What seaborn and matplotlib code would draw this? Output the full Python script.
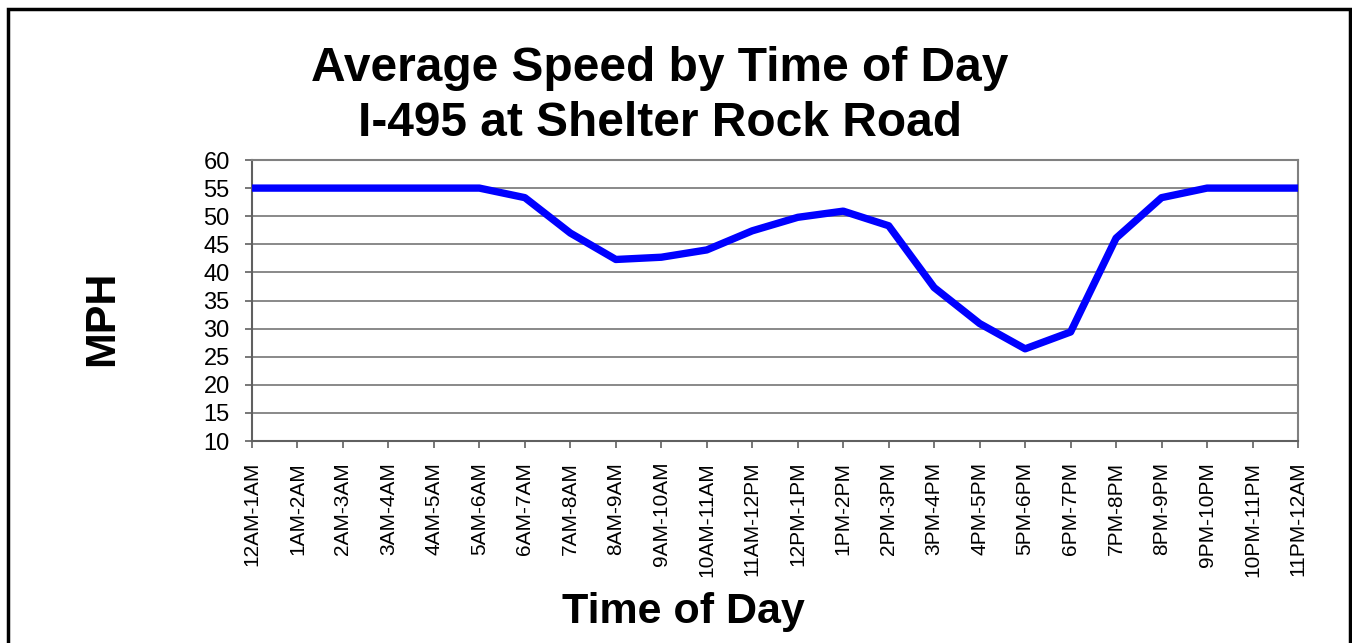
import matplotlib
matplotlib.use("Agg")
import matplotlib.pyplot as plt
import seaborn as sns
import pandas as pd

# data
hours = ["12AM-1AM", "1AM-2AM", "2AM-3AM", "3AM-4AM", "4AM-5AM", "5AM-6AM",
         "6AM-7AM", "7AM-8AM", "8AM-9AM", "9AM-10AM", "10AM-11AM", "11AM-12PM",
         "12PM-1PM", "1PM-2PM", "2PM-3PM", "3PM-4PM", "4PM-5PM", "5PM-6PM",
         "6PM-7PM", "7PM-8PM", "8PM-9PM", "9PM-10PM", "10PM-11PM", "11PM-12AM"]
mph = [55, 55, 55, 55, 55, 55,
       53.3, 47.0, 42.3, 42.7, 44.0, 47.4,
       49.8, 50.9, 48.3, 37.3, 30.9, 26.4,
       29.4, 46.1, 53.3, 55, 55, 55]
yticks = list(range(10, 65, 5))

df = pd.DataFrame({"hour": hours, "mph": mph})
df["pos"] = range(len(df))

sns.set_style("white")
plt.rcParams["font.family"] = ["Liberation Sans", "DejaVu Sans"]
plt.rcParams["text.color"] = "black"
plt.rcParams["xtick.color"] = "black"
plt.rcParams["ytick.color"] = "black"

fig = plt.figure(figsize=(13.52, 6.43), dpi=100)
ax = fig.add_axes([252 / 1352, 1 - 441 / 643, (1298 - 252) / 1352, (441 - 160) / 643])

sns.lineplot(data=df, x="pos", y="mph", ax=ax, color="#0000FF", linewidth=5.3,
             solid_capstyle="round", zorder=3)

ax.set_xlim(0, len(hours) - 1)
ax.set_ylim(10, 60)
ax.set_yticks(yticks)
ax.set_xticks(df["pos"])
ax.set_xticklabels(hours, rotation=90, fontsize=15)
ax.tick_params(axis="y", labelsize=17, pad=11)
ax.tick_params(axis="x", pad=10)
ax.tick_params(axis="both", direction="out", length=5, width=1.2,
               color="#606060", labelcolor="black", bottom=True, left=True)
ax.yaxis.grid(True, color="#808080", linewidth=1.3)
ax.xaxis.grid(False)
for side, sp in ax.spines.items():
    sp.set_visible(True)
    sp.set_color("#808080")
    sp.set_linewidth(1.5)
ax.spines["left"].set_color("#606060")
ax.spines["bottom"].set_color("#606060")
ax.set_xlabel("")
ax.set_ylabel("")

fig.text(660 / 1352, 1 - 96 / 643, "Average Speed by Time of Day\nI-495 at Shelter Rock Road",
         ha="center", va="center", fontsize=34.5, fontweight="bold", linespacing=1.27,
         color="black")
fig.text(102 / 1352, 1 - 318 / 643, "MPH", rotation=90, ha="center", va="center",
         fontsize=31, fontweight="bold", color="black")
fig.text(683 / 1352, 1 - 612 / 643, "Time of Day", ha="center", va="center",
         fontsize=31, fontweight="bold", color="black")

# outer chart border
border = plt.Rectangle((8 / 1352, -0.01), (1350 - 8) / 1352, 1 - 9 / 643 + 0.01,
                       transform=fig.transFigure, fill=False, edgecolor="black",
                       linewidth=2.5)
fig.patches.append(border)

fig.savefig("out.png", dpi=100)
